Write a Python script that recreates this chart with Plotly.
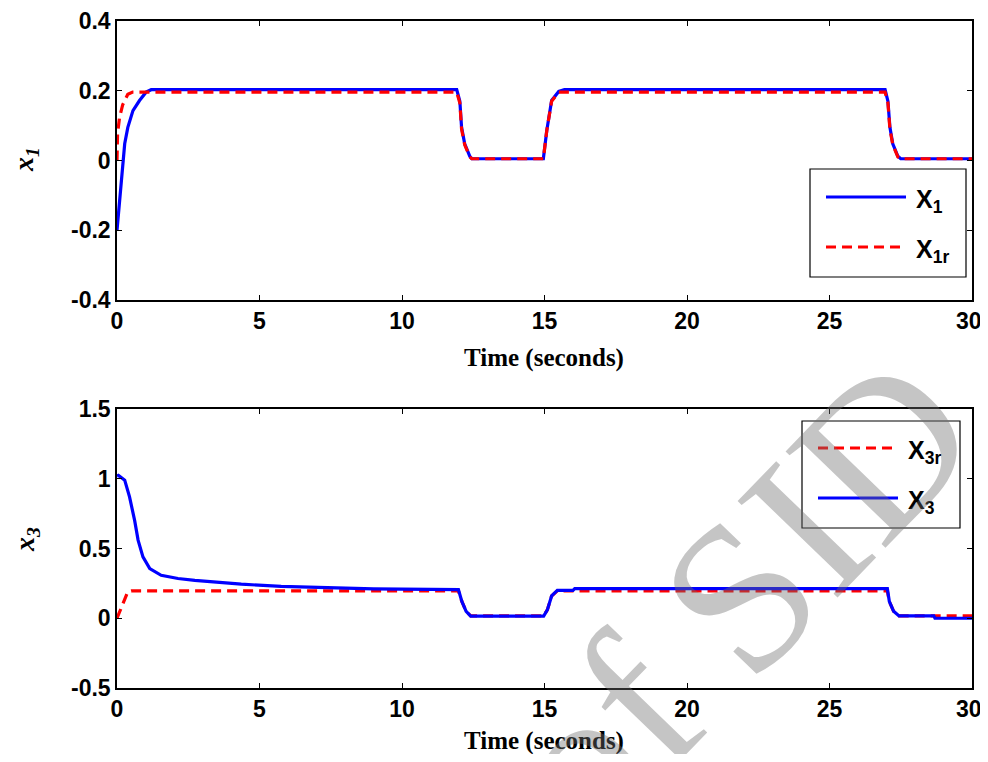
import plotly.graph_objects as go
from plotly.subplots import make_subplots

# ---- data ----
t_x1 = [0, 0.09, 0.17, 0.27, 0.38, 0.56, 0.79, 1.02, 1.2, 11.92, 12.03, 12.09, 12.2, 12.38, 12.45,
        14.96, 15.08, 15.25, 15.5, 15.7, 26.95, 27.05, 27.12, 27.22, 27.4, 27.5, 30]
x1 = [-0.2, -0.115, -0.02, 0.048, 0.095, 0.143, 0.172, 0.196, 0.203, 0.203, 0.17, 0.095, 0.048, 0.012, 0.005,
      0.005, 0.086, 0.172, 0.198, 0.203, 0.203, 0.17, 0.095, 0.048, 0.012, 0.005, 0.005]

t_x1r = [0, 0.02, 0.09, 0.2, 0.38, 0.55, 11.92, 12.03, 12.09, 12.2, 12.38, 12.45,
         14.96, 15.08, 15.25, 15.5, 26.95, 27.05, 27.12, 27.22, 27.4, 27.5, 30]
x1r = [0, 0.077, 0.124, 0.16, 0.19, 0.196, 0.196, 0.165, 0.09, 0.045, 0.01, 0.005,
       0.005, 0.086, 0.17, 0.196, 0.196, 0.165, 0.09, 0.045, 0.01, 0.005, 0.005]

t_x3 = [0, 0.05, 0.27, 0.44, 0.62, 0.74, 0.91, 1.15, 1.55, 2.14, 2.73, 3.43, 4.36, 5.76, 7.52, 9.0,
        11.98, 12.1, 12.25, 12.41, 14.97, 15.1, 15.25, 15.45, 16.0, 16.06, 27.03, 27.1, 27.25, 27.44,
        28.66, 28.7, 30]
x3 = [1.02, 1.025, 0.99, 0.87, 0.70, 0.56, 0.44, 0.356, 0.308, 0.285, 0.272, 0.26, 0.244, 0.229, 0.22, 0.21,
      0.205, 0.12, 0.05, 0.015, 0.015, 0.06, 0.16, 0.2, 0.2, 0.212, 0.212, 0.12, 0.05, 0.017,
      0.017, 0.0, 0.0]

t_x3r = [0, 0.15, 0.38, 0.5, 11.98, 12.1, 12.25, 12.41, 14.97, 15.1, 15.25, 15.45,
         27.03, 27.1, 27.25, 27.44, 30]
x3r = [0, 0.08, 0.19, 0.196, 0.196, 0.12, 0.05, 0.017, 0.017, 0.06, 0.16, 0.196,
       0.196, 0.12, 0.05, 0.017, 0.017]

x_ticks = [0, 5, 10, 15, 20, 25, 30]
x_tick_labels = ["0", "5", "10", "15", "20", "25", "30\u00a0"]
y1_ticks = [-0.4, -0.2, 0, 0.2, 0.4]
y1_labels = ["-0.4", "-0.2", "0", "0.2", "0.4"]
y3_ticks = [-0.5, 0, 0.5, 1, 1.5]
y3_labels = ["-0.5", "0", "0.5", "1", "1.5"]

# ---- layout geometry (page has an 8px body margin) ----
OFF = 8
W, H = 988 - 2 * OFF, 762 - 2 * OFF
ML, MR, MT, MB = 117 - OFF, 988 - 972 - OFF, 21 - OFF, 762 - 688 - OFF
PW, PH = W - ML - MR, H - MT - MB


def px(x):
    return (x - OFF - ML) / PW


def py(y):
    return (H - MB - (y - OFF)) / PH


BLUE = "#0000ff"
RED = "#ff0000"

fig = make_subplots(rows=2, cols=1, vertical_spacing=0.0)

fig.add_trace(go.Scatter(x=t_x1, y=x1, mode="lines", line=dict(color=BLUE, width=3.2),
                         showlegend=False, name="X1"), row=1, col=1)
fig.add_trace(go.Scatter(x=t_x1r, y=x1r, mode="lines", line=dict(color=RED, width=3.2, dash="10px,6px"),
                         showlegend=False, name="X1r"), row=1, col=1)
fig.add_trace(go.Scatter(x=t_x3r, y=x3r, mode="lines", line=dict(color=RED, width=3.2, dash="10px,6px"),
                         showlegend=False, name="X3r"), row=2, col=1)
fig.add_trace(go.Scatter(x=t_x3, y=x3, mode="lines", line=dict(color=BLUE, width=3.2),
                         showlegend=False, name="X3"), row=2, col=1)

tickfont = dict(family="Arial", size=23, color="black", weight="bold")
axis_common = dict(showline=True, linecolor="black", linewidth=1.5, mirror="allticks",
                   ticks="inside", ticklen=5, tickwidth=1.2, tickcolor="black",
                   showgrid=False, zeroline=False, tickfont=tickfont,
                   automargin=False, ticklabeloverflow="allow")

top_dom = [py(300), py(21)]
bot_dom = [py(688), py(409)]

fig.update_layout(
    template="none",
    width=W, height=H, margin=dict(l=ML, r=MR, t=MT, b=MB, autoexpand=False),
    paper_bgcolor="white", plot_bgcolor="white",
    xaxis=dict(domain=[0, 1], range=[0, 30], tickvals=x_ticks, ticktext=x_tick_labels, **axis_common),
    yaxis=dict(domain=top_dom, range=[-0.4, 0.4], tickvals=y1_ticks, ticktext=y1_labels, **axis_common),
    xaxis2=dict(domain=[0, 1], range=[0, 30], tickvals=x_ticks, ticktext=x_tick_labels, **axis_common),
    yaxis2=dict(domain=bot_dom, range=[-0.5, 1.5], tickvals=y3_ticks, ticktext=y3_labels, **axis_common),
)

serif = "Liberation Serif"
ann = []


def note(x, y, text, font, **kw):
    ann.append(dict(xref="paper", yref="paper", x=px(x), y=py(y), text=text, showarrow=False,
                    font=font, **kw))


# axis titles
title_font = dict(family=serif, size=25, color="black")
note(544, 358, "<b>Time (seconds)</b>", title_font, xanchor="center", yanchor="middle")
note(544, 741, "<b>Time (seconds)</b>", title_font, xanchor="center", yanchor="middle")
ylab_font = dict(family=serif, size=28, color="black")
note(26, 160, "<b><i>x</i></b><sub><b><i>1</i></b></sub>", ylab_font, textangle=-90,
     xanchor="center", yanchor="middle")
note(26, 540, "<b><i>x</i></b><sub><b><i>3</i></b></sub>", ylab_font, textangle=-90,
     xanchor="center", yanchor="middle")

# legends (drawn as boxes + samples + labels)
shapes = []
leg_font = dict(family="Arial", size=25, color="black", weight="bold")


def legend(box, items):
    x0, x1b, y0, y1b = box
    shapes.append(dict(type="rect", xref="paper", yref="paper", x0=px(x0), x1=px(x1b),
                       y0=py(y1b), y1=py(y0), line=dict(color="black", width=1.2),
                       fillcolor="white", layer="above"))
    for (lx0, lx1, ly, color, dash, label, tx) in items:
        shapes.append(dict(type="line", xref="paper", yref="paper", x0=px(lx0), x1=px(lx1),
                           y0=py(ly), y1=py(ly), line=dict(color=color, width=3.2, dash=dash),
                           layer="above"))
        note(tx, ly + 4, label, leg_font, xanchor="left", yanchor="middle")


legend((810, 966, 169, 277), [
    (826, 906, 197, BLUE, "solid", "<b>X<sub>1</sub></b>", 914),
    (826, 906, 247, RED, "10px,6px", "<b>X<sub>1r</sub></b>", 914),
])
legend((802, 960, 421, 528), [
    (818, 898, 448, RED, "10px,6px", "<b>X<sub>3r</sub></b>", 906),
    (818, 898, 498, BLUE, "solid", "<b>X<sub>3</sub></b>", 906),
])

# watermark
note(737, 598, "of SID", dict(family=serif, size=212, color="rgba(110,110,110,0.4)"),
     textangle=-46, xanchor="center", yanchor="middle")

fig.update_layout(annotations=ann, shapes=shapes)
fig.write_html("out.html")
